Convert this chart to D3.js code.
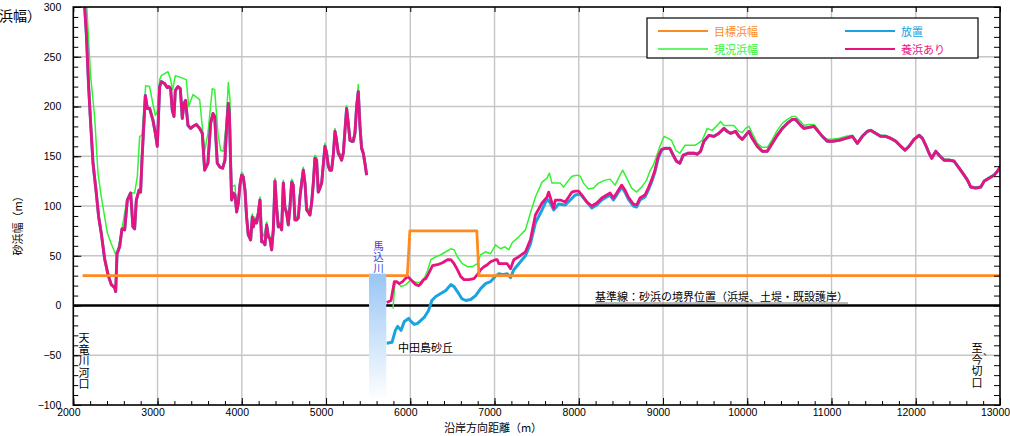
<!DOCTYPE html>
<html>
<head>
<meta charset="utf-8">
<script src="https://cdn.jsdelivr.net/npm/d3@7"></script>
<style>
  body { margin: 0; background: #fff; }
  svg text { font-family: "Liberation Sans", Arial, sans-serif; fill: #000; }
  svg .jp { font-family: "Noto Sans CJK JP", sans-serif; }
  .tick line { stroke: #000; }
</style>
</head>
<body>
<div id="wrapper"></div>
<script>
// ---- data (distance m, beach width m) ----
const xTicks = [2000, 3000, 4000, 5000, 6000, 7000, 8000, 9000, 10000, 11000, 12000, 13000]
const yTicks = [-100, -50, 0, 50, 100, 150, 200, 250, 300]

const seriesNames = ["目標浜幅", "現況浜幅", "放置", "養浜あり"]
const seriesColors = ["#ff8a1f", "#33f233", "#1aa3df", "#e8137f"]

const targetWidth = [[2110, 30], [5965, 30], [5995, 75], [6790, 75], [6815, 30], [13000, 30]]

const nourishLeft = [
  [2120, 320], [2155, 273], [2182, 220], [2206, 183], [2234, 143], [2273, 113], [2301, 89], [2333, 72],
  [2372, 47], [2412, 31], [2451, 21], [2491, 18], [2503, 14], [2519, 52], [2550, 59], [2578, 77],
  [2610, 76], [2641, 106], [2681, 113], [2708, 79], [2728, 77], [2748, 106], [2780, 116], [2799, 114],
  [2815, 146], [2855, 211], [2879, 198], [2906, 198], [2946, 186], [2974, 173], [2997, 160], [3025, 220],
  [3045, 225], [3084, 223], [3116, 219], [3136, 220], [3155, 218], [3175, 196], [3195, 190], [3211, 216],
  [3242, 220], [3270, 218], [3294, 188], [3314, 203], [3333, 206], [3361, 181], [3393, 178], [3421, 180],
  [3460, 182], [3500, 178], [3531, 173], [3559, 136], [3598, 143], [3630, 183], [3658, 193], [3678, 190],
  [3709, 143], [3741, 139], [3773, 138], [3800, 146], [3820, 180], [3840, 203], [3852, 193], [3879, 106],
  [3899, 113], [3919, 111], [3939, 94], [3959, 103], [3978, 121], [3998, 131], [4018, 129], [4038, 116],
  [4057, 89], [4077, 71], [4105, 66], [4125, 89], [4137, 79], [4156, 86], [4176, 83], [4196, 93],
  [4216, 106], [4236, 64], [4255, 64], [4275, 61], [4295, 81], [4315, 69], [4334, 67], [4354, 56],
  [4374, 76], [4394, 125], [4413, 99], [4433, 79], [4453, 81], [4473, 76], [4493, 123], [4512, 98],
  [4532, 93], [4552, 81], [4572, 99], [4592, 124], [4611, 121], [4631, 86], [4651, 86], [4671, 88],
  [4690, 109], [4710, 123], [4730, 136], [4750, 123], [4770, 96], [4789, 94], [4809, 91], [4829, 103],
  [4849, 123], [4868, 148], [4888, 146], [4908, 114], [4928, 118], [4948, 123], [4967, 141], [4987, 160],
  [5007, 153], [5027, 140], [5046, 136], [5066, 136], [5086, 151], [5106, 175], [5125, 166], [5145, 153],
  [5165, 150], [5185, 146], [5205, 153], [5225, 176], [5244, 198], [5264, 183], [5284, 166], [5304, 165],
  [5323, 165], [5343, 173], [5363, 200], [5383, 215], [5403, 180], [5422, 158], [5442, 153], [5462, 143],
  [5482, 131]
]

const currentLeft = [
  [2145, 320], [2162, 297], [2206, 230], [2253, 190], [2293, 133], [2333, 109], [2404, 73], [2451, 62],
  [2499, 52], [2530, 57], [2570, 73], [2610, 93], [2641, 107], [2669, 113], [2728, 113], [2760, 130],
  [2788, 170], [2815, 171], [2847, 207], [2859, 221], [2906, 220], [2946, 202], [2974, 191], [2997, 195],
  [3025, 227], [3045, 231], [3124, 235], [3152, 228], [3179, 217], [3211, 231], [3282, 229], [3341, 227],
  [3369, 200], [3421, 212], [3500, 207], [3559, 155], [3598, 173], [3650, 218], [3678, 217], [3717, 173],
  [3749, 156], [3781, 155], [3812, 180], [3840, 224], [3860, 207], [3879, 119], [3919, 121], [3939, 96],
  [3959, 105], [3978, 124], [3998, 134], [4018, 132], [4038, 119], [4057, 92], [4077, 74], [4105, 70],
  [4125, 92], [4137, 82], [4156, 89], [4176, 86], [4196, 96], [4216, 109], [4236, 67], [4255, 70],
  [4275, 75], [4295, 84], [4315, 72], [4334, 70], [4354, 59], [4374, 79], [4394, 128], [4413, 102],
  [4433, 82], [4453, 84], [4473, 79], [4493, 126], [4512, 101], [4532, 96], [4552, 84], [4572, 102],
  [4592, 127], [4611, 124], [4631, 89], [4651, 89], [4671, 91], [4690, 112], [4710, 126], [4730, 139],
  [4750, 126], [4770, 99], [4789, 97], [4809, 94], [4829, 106], [4849, 126], [4868, 151], [4888, 149],
  [4908, 117], [4928, 121], [4948, 126], [4967, 144], [4987, 163], [5007, 156], [5027, 143], [5046, 139],
  [5066, 139], [5086, 154], [5106, 178], [5125, 169], [5145, 156], [5165, 153], [5185, 149], [5205, 156],
  [5225, 179], [5244, 201], [5264, 186], [5284, 169], [5304, 168], [5323, 168], [5343, 176], [5363, 205],
  [5383, 222], [5403, 183], [5422, 161], [5442, 156], [5462, 146], [5482, 134]
]

const nourishRight = [
  [5720, 3], [5771, 5], [5811, 24], [5838, 24], [5870, 22], [5909, 24], [5941, 27], [5968, 29],
  [5996, 27], [6028, 24], [6067, 21], [6099, 20], [6126, 22], [6158, 26], [6185, 27], [6217, 32],
  [6264, 40], [6323, 41], [6382, 43], [6441, 46], [6481, 46], [6520, 42], [6559, 36], [6599, 29],
  [6638, 26], [6697, 26], [6756, 27], [6796, 31], [6835, 36], [6875, 39], [6914, 41], [6953, 44],
  [7012, 46], [7032, 46], [7052, 42], [7099, 42], [7150, 42], [7190, 37], [7229, 46], [7288, 49],
  [7367, 54], [7426, 66], [7485, 91], [7564, 103], [7623, 109], [7643, 114], [7682, 103], [7702, 98],
  [7722, 106], [7781, 106], [7840, 104], [7880, 109], [7919, 114], [7958, 115], [7998, 115], [8037, 111],
  [8096, 104], [8155, 100], [8214, 103], [8273, 108], [8332, 111], [8372, 113], [8411, 108], [8450, 113],
  [8509, 121], [8549, 116], [8588, 109], [8647, 102], [8687, 101], [8726, 108], [8785, 111], [8825, 118],
  [8864, 126], [8904, 136], [8943, 150], [8983, 157], [9022, 158], [9081, 158], [9121, 151], [9160, 145],
  [9200, 143], [9239, 151], [9298, 153], [9377, 153], [9406, 152], [9446, 155], [9485, 165], [9545, 171],
  [9604, 170], [9663, 173], [9723, 178], [9762, 175], [9802, 173], [9861, 175], [9901, 170], [9941, 167],
  [9980, 171], [10020, 175], [10059, 168], [10119, 160], [10178, 155], [10238, 155], [10297, 163], [10356, 171],
  [10416, 178], [10475, 183], [10535, 187], [10574, 187], [10634, 181], [10673, 178], [10733, 179], [10792, 180],
  [10832, 176], [10891, 170], [10951, 165], [11010, 165], [11089, 166], [11168, 168], [11248, 170], [11307, 163],
  [11366, 170], [11426, 175], [11465, 176], [11525, 173], [11584, 170], [11644, 170], [11703, 168], [11763, 165],
  [11822, 160], [11873, 156], [11921, 160], [11980, 167], [12040, 171], [12079, 168], [12119, 161], [12158, 153],
  [12190, 148], [12238, 155], [12277, 151], [12337, 146], [12396, 146], [12455, 145], [12515, 138], [12574, 131],
  [12614, 126], [12653, 119], [12713, 118], [12772, 119], [12812, 125], [12871, 128], [12931, 131], [12970, 135],
  [13000, 139]
]

// "放置" differs from "養浜あり" only up to ~9000 m, beyond that both lines coincide
const leaveRight = [
  [5720, -38], [5783, -37], [5823, -25], [5850, -21], [5890, -25], [5929, -16], [5980, -13], [6008, -16],
  [6047, -19], [6087, -18], [6126, -15], [6165, -12], [6217, -5], [6256, 5], [6303, 9], [6362, 12],
  [6422, 15], [6481, 21], [6520, 19], [6559, 14], [6611, 7], [6658, 5], [6717, 6], [6776, 10],
  [6835, 17], [6894, 22], [6953, 24], [7005, 29], [7052, 32], [7099, 31], [7150, 32], [7190, 28],
  [7229, 36], [7288, 42], [7367, 50], [7426, 62], [7485, 83], [7564, 96], [7623, 107], [7663, 103],
  [7702, 96], [7761, 102], [7840, 101], [7899, 106], [7958, 111], [8017, 112], [8076, 106], [8155, 98],
  [8214, 101], [8273, 106], [8332, 109], [8372, 111], [8411, 106], [8450, 111], [8509, 119], [8549, 114],
  [8588, 107], [8647, 100], [8687, 99], [8726, 106], [8785, 109], [8825, 116], [8864, 124], [8904, 134],
  [8943, 148], [8983, 156], [9022, 158]
]

const currentRight = [
  [5795, -3], [5815, 20], [5838, 24], [5890, 19], [5949, 21], [6008, 26], [6047, 24], [6087, 23],
  [6126, 24], [6165, 27], [6205, 35], [6244, 46], [6303, 49], [6362, 51], [6422, 54], [6481, 57],
  [6520, 56], [6559, 49], [6618, 42], [6677, 39], [6737, 39], [6796, 42], [6835, 51], [6894, 54],
  [6953, 52], [7012, 61], [7071, 57], [7123, 59], [7170, 56], [7209, 63], [7288, 69], [7367, 76],
  [7426, 93], [7485, 109], [7564, 124], [7623, 128], [7651, 133], [7682, 123], [7722, 123], [7781, 123],
  [7820, 119], [7880, 126], [7919, 130], [7978, 131], [8017, 130], [8057, 123], [8116, 117], [8175, 118],
  [8234, 123], [8313, 126], [8372, 127], [8431, 121], [8490, 131], [8521, 136], [8569, 128], [8628, 118],
  [8687, 114], [8746, 119], [8805, 126], [8844, 135], [8884, 141], [8923, 150], [8963, 160], [9014, 170],
  [9062, 168], [9101, 166], [9152, 156], [9200, 153], [9259, 161], [9318, 161], [9377, 161], [9416, 163],
  [9465, 166], [9525, 178], [9584, 176], [9644, 181], [9683, 185], [9723, 181], [9782, 181], [9842, 181],
  [9901, 175], [9941, 174], [9980, 178], [10020, 180], [10059, 173], [10119, 163], [10178, 159], [10238, 159],
  [10297, 167], [10356, 176], [10416, 183], [10475, 187], [10535, 190], [10574, 190], [10634, 185], [10673, 181],
  [10733, 182], [10792, 182], [10832, 178], [10891, 170], [10951, 167], [11010, 167], [11089, 168], [11168, 170],
  [11248, 171], [11307, 164], [11366, 171], [11426, 176], [11465, 177], [11525, 174], [11584, 171], [11644, 171],
  [11703, 169], [11763, 166], [11822, 161], [11873, 157], [11921, 161], [11980, 168], [12040, 172], [12079, 169],
  [12119, 162], [12158, 154], [12190, 149], [12238, 156], [12277, 152], [12337, 147], [12396, 147], [12455, 146],
  [12515, 139], [12574, 132], [12614, 127], [12653, 120], [12713, 119], [12772, 120], [12812, 126], [12871, 129],
  [12931, 132], [12970, 136], [13000, 140]
]

// river mouth band (馬込川): from / to distance, top / bottom width
const riverBand = { from: 5510, to: 5715, top: 32, bottom: -95 }

function drawChart() {

  // 1. dimensions
  let dimensions = {
    width: 1010,
    height: 436,
    margin: { top: 7, right: 10, bottom: 31, left: 73.3 },
  }
  dimensions.boundedWidth = dimensions.width - dimensions.margin.left - dimensions.margin.right
  dimensions.boundedHeight = dimensions.height - dimensions.margin.top - dimensions.margin.bottom

  // 2. canvas
  const wrapper = d3.select("#wrapper")
    .append("svg")
      .attr("width", dimensions.width)
      .attr("height", dimensions.height)

  const defs = wrapper.append("defs")
  defs.append("clipPath").attr("id", "plot-clip")
    .append("rect")
      .attr("width", dimensions.boundedWidth)
      .attr("height", dimensions.boundedHeight)
  const grad = defs.append("linearGradient").attr("id", "river-grad")
      .attr("x1", 0).attr("y1", 0).attr("x2", 0).attr("y2", 1)
  grad.append("stop").attr("offset", "0%").attr("stop-color", "#98c6f5")
  grad.append("stop").attr("offset", "100%").attr("stop-color", "#ffffff")

  const bounds = wrapper.append("g")
      .attr("transform", `translate(${dimensions.margin.left},${dimensions.margin.top})`)

  // 3. scales
  const xScale = d3.scaleLinear()
    .domain([2000, 13000])
    .range([0, dimensions.boundedWidth])
  const yScale = d3.scaleLinear()
    .domain([-100, 300])
    .range([dimensions.boundedHeight, 0])

  const xMinor = d3.range(2000, 13001, 200)
  const yMinor = d3.range(-100, 301, 10)

  // 4. grid
  const grid = bounds.append("g").attr("stroke", "#c6c6c6").attr("stroke-width", 1.4)
  grid.selectAll(".gx").data(xTicks.slice(1, -1)).enter().append("line")
    .attr("x1", d => xScale(d)).attr("x2", d => xScale(d))
    .attr("y1", 0).attr("y2", dimensions.boundedHeight)
  grid.selectAll(".gy").data(yTicks.filter(d => d !== 0 && d > -100 && d < 300)).enter().append("line")
    .attr("x1", 0).attr("x2", dimensions.boundedWidth)
    .attr("y1", d => yScale(d)).attr("y2", d => yScale(d))

  // baseline (0 m)
  bounds.append("line")
    .attr("x1", 0).attr("x2", dimensions.boundedWidth)
    .attr("y1", yScale(0)).attr("y2", yScale(0))
    .attr("stroke", "#000").attr("stroke-width", 2.6)

  // 5. data lines
  const lineGen = d3.line()
    .x(d => xScale(d[0]))
    .y(d => yScale(d[1]))

  const plot = bounds.append("g").attr("clip-path", "url(#plot-clip)")
  const leaveFull = leaveRight.concat(nourishRight.filter(d => d[0] > 9022))

  const lines = [
    { data: currentLeft, color: seriesColors[1], w: 1.5 },
    { data: currentRight, color: seriesColors[1], w: 1.5 },
    { data: nourishLeft, color: seriesColors[2], w: 3 },
    { data: leaveFull, color: seriesColors[2], w: 3 },
    { data: nourishLeft, color: seriesColors[3], w: 2.8 },
    { data: nourishRight, color: seriesColors[3], w: 2.8 },
    { data: targetWidth, color: seriesColors[0], w: 2.8 },
  ]
  plot.selectAll(".series").data(lines).enter().append("path")
    .attr("d", d => lineGen(d.data))
    .attr("fill", "none")
    .attr("stroke", d => d.color)
    .attr("stroke-width", d => d.w)
    .attr("stroke-linejoin", "round")

  // river band
  plot.append("rect")
    .attr("x", xScale(riverBand.from))
    .attr("width", xScale(riverBand.to) - xScale(riverBand.from))
    .attr("y", yScale(riverBand.top))
    .attr("height", yScale(riverBand.bottom) - yScale(riverBand.top))
    .attr("fill", "url(#river-grad)")

  // 6. axes
  const styleAxis = g => g.select(".domain").remove()

  bounds.append("g")
    .attr("transform", `translate(0,${dimensions.boundedHeight})`)
    .call(d3.axisBottom(xScale).tickValues(xMinor).tickSize(-4).tickFormat(""))
    .call(styleAxis)
  const xAxis = bounds.append("g")
    .attr("transform", `translate(0,${dimensions.boundedHeight})`)
    .call(d3.axisBottom(xScale).tickValues(xTicks).tickSize(-7).tickPadding(4).tickFormat(d3.format("d")))
    .call(styleAxis)
  xAxis.selectAll("text").attr("dx", -5).style("font-size", "10.5px")

  bounds.append("g")
    .call(d3.axisTop(xScale).tickValues(xTicks).tickSize(-5).tickFormat(""))
    .call(styleAxis)

  bounds.append("g")
    .call(d3.axisLeft(yScale).tickValues(yMinor).tickSize(-5).tickFormat(""))
    .call(styleAxis)
  const yAxis = bounds.append("g")
    .call(d3.axisLeft(yScale).tickValues(yTicks).tickSize(-8).tickPadding(12))
    .call(styleAxis)
  yAxis.selectAll("text").style("font-size", "10.5px")

  bounds.append("g")
    .attr("transform", `translate(${dimensions.boundedWidth},0)`)
    .call(d3.axisRight(yScale).tickValues(yMinor).tickSize(-6).tickFormat(""))
    .call(styleAxis)

  // frame
  bounds.append("rect")
    .attr("width", dimensions.boundedWidth)
    .attr("height", dimensions.boundedHeight)
    .attr("fill", "none")
    .attr("stroke", "#000")
    .attr("stroke-width", 1.6)

  // 7. annotations (vertical writing)
  const vertical = (txt, cx, top, size, spacing, color) => {
    wrapper.append("text")
      .attr("class", "jp")
      .attr("x", cx)
      .attr("y", top)
      .style("writing-mode", "vertical-rl")
      .style("font-size", size + "px")
      .style("letter-spacing", spacing + "px")
      .style("fill", color)
      .text(txt)
  }
  vertical("天竜川河口", 84, 332.5, 11, 0.5, "#000")
  vertical("馬込川", 378.5, 241, 10.5, 0.3, "#3346d6")
  vertical("至", 977, 342, 11, 0, "#000")
  vertical("今切口", 977, 354, 11, 0.7, "#000")
  wrapper.append("text").attr("class", "jp")
    .attr("x", 987.5).attr("y", 351)
    .attr("text-anchor", "middle").attr("dominant-baseline", "central")
    .style("font-size", "9px").text("、")

  wrapper.append("text").attr("class", "jp")
    .attr("x", 398).attr("y", 352)
    .style("font-size", "11px")
    .text("中田島砂丘")

  const baseText = wrapper.append("text").attr("class", "jp")
    .attr("x", 595).attr("y", 300.5)
    .style("font-size", "11px")
    .text("基準線：砂浜の境界位置（浜堤、土堤・既設護岸）")
  const baseLen = baseText.node().getComputedTextLength()
  wrapper.append("line")
    .attr("x1", 595).attr("x2", 595 + baseLen)
    .attr("y1", 303).attr("y2", 303)
    .attr("stroke", "#555").attr("stroke-width", 0.8)

  // axis titles
  wrapper.append("text").attr("class", "jp")
    .attr("x", 493).attr("y", 431.5)
    .attr("text-anchor", "middle")
    .style("font-size", "11px")
    .text("沿岸方向距離（m）")
  wrapper.append("text").attr("class", "jp")
    .attr("transform", "translate(22,223) rotate(-90)")
    .attr("text-anchor", "middle")
    .style("font-size", "11px")
    .text("砂浜幅（m）")
  wrapper.append("text").attr("class", "jp")
    .attr("x", 41).attr("y", 21)
    .attr("text-anchor", "end")
    .style("font-size", "14px")
    .text("（砂浜幅）")

  // 8. legend
  const legend = wrapper.append("g").attr("transform", "translate(647,18)")
  legend.append("rect")
    .attr("width", 331).attr("height", 40)
    .attr("fill", "#fff").attr("stroke", "#000").attr("stroke-width", 1.2)
  const legendPos = [[11, 13], [11, 31], [198, 13], [198, 31]]
  const items = legend.selectAll(".item").data(seriesNames).enter().append("g")
    .attr("transform", (d, i) => `translate(${legendPos[i][0]},${legendPos[i][1]})`)
  items.append("line")
    .attr("x1", 0).attr("x2", 50)
    .attr("stroke", (d, i) => seriesColors[i])
    .attr("stroke-width", (d, i) => i === 1 ? 1.4 : 2.2)
  items.append("text").attr("class", "jp")
    .attr("x", 56).attr("dominant-baseline", "central")
    .style("font-size", "11px")
    .style("fill", (d, i) => seriesColors[i])
    .text(d => d)
}
drawChart()
</script>
</body>
</html>
